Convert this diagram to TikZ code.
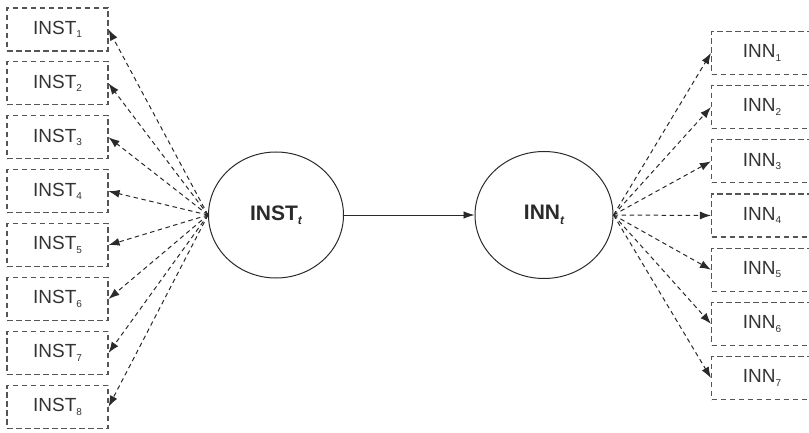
\documentclass[tikz,border=0pt]{standalone}
\usepackage{fontspec}
\setmainfont{Liberation Sans}
\usetikzlibrary{arrows.meta,shapes.geometric}
\definecolor{boxline}{HTML}{555555}
\definecolor{txt}{HTML}{333333}
\definecolor{ink}{HTML}{2A2A2A}
\newcommand\lowidx[1]{\raisebox{-0.35ex}{\fontsize{10}{10}\selectfont #1}}
\newcommand\hidx[1]{\raisebox{-0.4ex}{\fontsize{12}{12}\selectfont\itshape #1}}
\tikzset{
  itembox/.style={draw=boxline, line width=1.1pt, dash pattern=on 5.5pt off 3.5pt,
    minimum width=101pt, minimum height=43pt, inner sep=0pt,
    text=txt, font=\fontsize{19}{19}\selectfont},
  hub/.style={ellipse, draw=ink, line width=1pt, inner sep=0pt,
    text=ink, font=\fontsize{21}{21}\selectfont\bfseries},
  link/.style={draw=ink, line width=1pt, dash pattern=on 4.5pt off 3.5pt,
    -{Latex[length=11pt,width=8pt]}},
  mainlink/.style={draw=ink, line width=0.9pt, -{Latex[length=11pt,width=7.5pt]}}
}
\begin{document}
\begin{tikzpicture}[x=1pt,y=-1pt]
  \useasboundingbox (0,0) rectangle (809,433);
  % central constructs
  \node[hub, minimum width=135pt, minimum height=126pt] (inst) at (276,215) {INST\hidx{t}};
  \node[hub, minimum width=138pt, minimum height=127pt] (inn) at (544,215) {INN\hidx{t}};
  \draw[mainlink] (inst.east) -- (inn.west);
  % left indicators
  \foreach \i in {1,...,8} {
    \node[itembox] (L\i) at (57.5,{29.5+53.9*(\i-1)}) {INST\lowidx{\i}};
    \draw[link] (inst.west) -- (L\i.east);
  }
  % right indicators
  \foreach \i in {1,...,7} {
    \node[itembox] (R\i) at (762,{53+54.17*(\i-1)}) {INN\lowidx{\i}};
    \draw[link] (inn.east) -- (R\i.west);
  }
\end{tikzpicture}
\end{document}
